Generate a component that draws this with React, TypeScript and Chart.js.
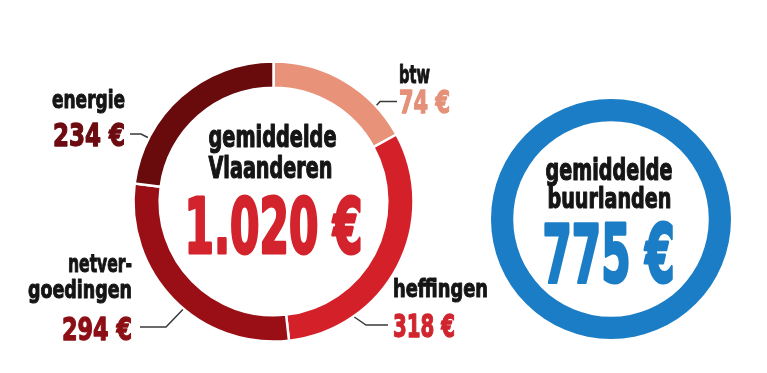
import React, { useEffect, useRef } from "react";
import { Chart, registerables } from "chart.js";

Chart.register(...registerables);

// ---------- data ----------
const categories = ["btw", "heffingen", "netvergoedingen", "energie"];
const categoryLines = [["btw"], ["heffingen"], ["netver-", "goedingen"], ["energie"]];
const costs = [74, 318, 294, 234];
const totalVlaanderen = 1020;
const totalBuurlanden = 775;
const titleVlaanderen = ["gemiddelde", "Vlaanderen"];
const titleBuurlanden = ["gemiddelde", "buurlanden"];

// In the graphic, the btw arc fills the remainder of the 1.020 € total.
const sliceValues = costs.map((v, i) =>
  i === 0 ? totalVlaanderen - costs.slice(1).reduce((a, b) => a + b, 0) : v
);

// ---------- style ----------
const W = 767;
const H = 373;
const FONT = '"Liberation Sans Narrow", "DejaVu Sans Condensed", "Roboto", sans-serif';
const BLACK = "#151515";
const sliceColors = ["#E8927A", "#D42029", "#9A0F16", "#690A0D"];
const valueColors = ["#E59079", "#D0252E", "#8C0F15", "#6C0B10"];
const BIG_RED = "#D3232C";
const BLUE = "#1B7DC5";

const outerLabelLayout = [
  { align: "left", x: 399, nameBaselines: [83], nameWidths: [31], valueBaseline: 113, valueWidth: 51, angle: 47, elbow: [380, 101.5], end: [397, 101.5] },
  { align: "left", x: 393, nameBaselines: [297], nameWidths: [95], valueBaseline: 337, valueWidth: 62, angle: 145, elbow: [366, 325], end: [388, 325] },
  { align: "right", x: 132, nameBaselines: [272, 298], nameWidths: [64, 104], valueBaseline: 340, valueWidth: 70, angle: 220, elbow: [166, 327], end: [140, 327] },
  { align: "right", x: 125, nameBaselines: [108], nameWidths: [73], valueBaseline: 146, valueWidth: 72, angle: 297, elbow: [141, 134], end: [130, 134] },
];

function euro(v: number) {
  return String(v).replace(/\B(?=(\d{3})+(?!\d))/g, ".") + " €";
}

function fitText(
  ctx: CanvasRenderingContext2D,
  text: string,
  x: number,
  y: number,
  width: number,
  size: number,
  color: string,
  align: string
) {
  ctx.save();
  ctx.font = `bold ${size}px ${FONT}`;
  ctx.fillStyle = color;
  ctx.strokeStyle = color;
  ctx.lineJoin = "round";
  ctx.textBaseline = "alphabetic";
  ctx.textAlign = "left";
  const m = ctx.measureText(text).width || 1;
  const sx = width / m;
  const left = align === "left" ? x : align === "right" ? x - width : x - width / 2;
  ctx.translate(left, y);
  ctx.scale(sx, 1);
  ctx.lineWidth = Math.max(0.8, size * 0.04);
  ctx.fillText(text, 0, 0);
  ctx.strokeText(text, 0, 0);
  ctx.restore();
}

const leftLabelsPlugin = {
  id: "leftLabels",
  afterDraw(chart: any) {
    const ctx: CanvasRenderingContext2D = chart.ctx;
    const arc = chart.getDatasetMeta(0).data[0] as any;
    const cx = arc.x;
    const cy = arc.y;
    const R = arc.outerRadius;

    // centre text
    fitText(ctx, titleVlaanderen[0], cx - 1, 147, 128, 30, BLACK, "center");
    fitText(ctx, titleVlaanderen[1], cx - 3, 178, 124, 30, BLACK, "center");
    fitText(ctx, euro(totalVlaanderen), cx, 253, 178, 77, BIG_RED, "center");

    // outer labels + leaders
    categories.forEach((_, i) => {
      const L = outerLabelLayout[i];
      categoryLines[i].forEach((line, j) => {
        fitText(ctx, line, L.x, L.nameBaselines[j], L.nameWidths[j], 25, BLACK, L.align);
      });
      fitText(ctx, euro(costs[i]), L.x, L.valueBaseline, L.valueWidth, 32, valueColors[i], L.align);

      const a = (L.angle * Math.PI) / 180;
      ctx.save();
      ctx.strokeStyle = "#3a3a3a";
      ctx.lineWidth = 1.5;
      ctx.beginPath();
      ctx.moveTo(cx + (R + 1) * Math.sin(a), cy - (R + 1) * Math.cos(a));
      ctx.lineTo(L.elbow[0], L.elbow[1]);
      ctx.lineTo(L.end[0], L.end[1]);
      ctx.stroke();
      ctx.restore();
    });
  },
};

const rightLabelsPlugin = {
  id: "rightLabels",
  afterDraw(chart: any) {
    const ctx: CanvasRenderingContext2D = chart.ctx;
    const arc = chart.getDatasetMeta(0).data[0] as any;
    const cx = arc.x;
    fitText(ctx, titleBuurlanden[0], cx - 2, 180, 127, 30, BLACK, "center");
    fitText(ctx, titleBuurlanden[1], cx - 1.5, 208, 124, 29, BLACK, "center");
    fitText(ctx, euro(totalBuurlanden), cx - 2.5, 282, 132, 80, BLUE, "center");
  },
};

export default function App() {
  const leftRef = useRef<HTMLCanvasElement>(null);
  const rightRef = useRef<HTMLCanvasElement>(null);

  useEffect(() => {
    const c1 = new Chart(leftRef.current as HTMLCanvasElement, {
      type: "doughnut",
      data: {
        labels: categories,
        datasets: [
          {
            data: sliceValues,
            backgroundColor: sliceColors,
            borderColor: "#ffffff",
            borderWidth: 2.5,
          },
        ],
      },
      options: {
        responsive: false,
        animation: false,
        events: [],
        radius: 140,
        cutout: "81.3%",
        layout: { padding: { left: 134, right: 354, top: 62, bottom: 32 } },
        plugins: { legend: { display: false }, tooltip: { enabled: false } },
      } as any,
      plugins: [leftLabelsPlugin],
    });

    const c2 = new Chart(rightRef.current as HTMLCanvasElement, {
      type: "doughnut",
      data: {
        labels: ["gemiddelde buurlanden"],
        datasets: [
          {
            data: [totalBuurlanden],
            backgroundColor: [BLUE],
            borderWidth: 0,
          },
        ],
      },
      options: {
        responsive: false,
        animation: false,
        events: [],
        radius: 120,
        cutout: "81.5%",
        layout: { padding: { left: 491, right: 36, top: 99, bottom: 34 } },
        plugins: { legend: { display: false }, tooltip: { enabled: false } },
      } as any,
      plugins: [rightLabelsPlugin],
    });

    return () => {
      c1.destroy();
      c2.destroy();
    };
  }, []);

  return (
    <div style={{ position: "absolute", left: 0, top: 0, width: W, height: H, background: "#ffffff" }}>
      <canvas ref={leftRef} width={W} height={H} style={{ position: "absolute", left: 0, top: 0 }} />
      <canvas ref={rightRef} width={W} height={H} style={{ position: "absolute", left: 0, top: 0 }} />
    </div>
  );
}
